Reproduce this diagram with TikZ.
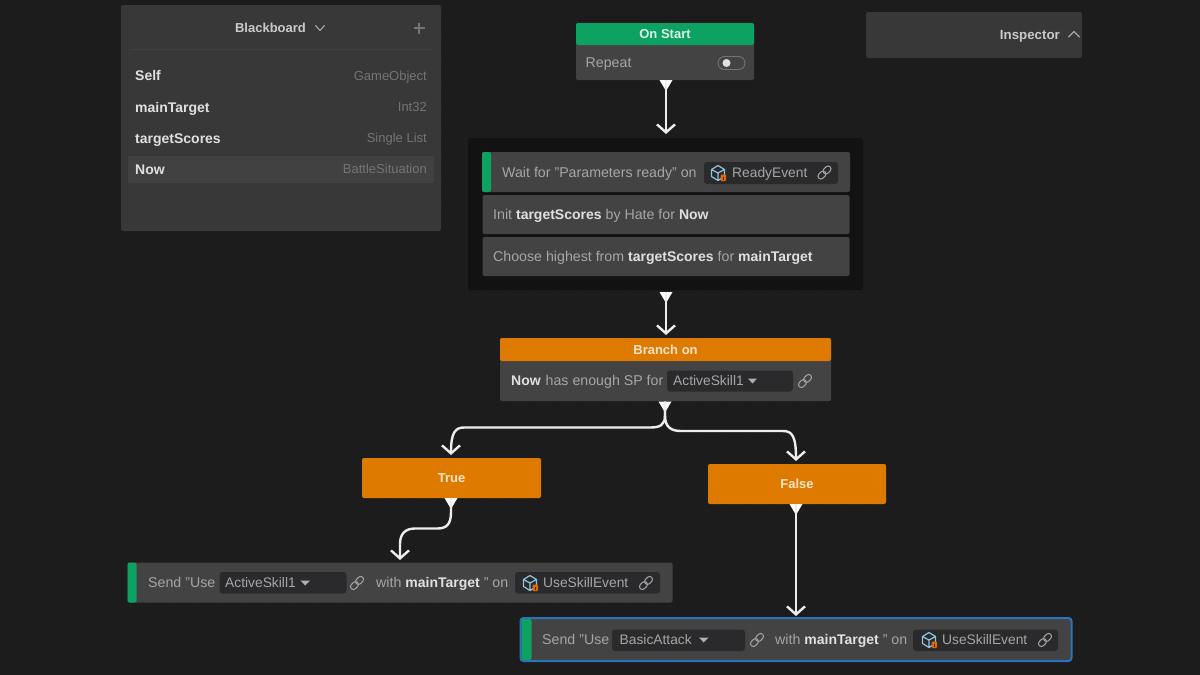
\documentclass[tikz,border=0pt]{standalone}
\usepackage{fontspec}
\setmainfont{Liberation Sans}
\usetikzlibrary{arrows.meta,calc}
\definecolor{bg}{HTML}{1C1C1D}
\definecolor{griddot}{HTML}{2A2A2B}
\definecolor{panel}{HTML}{383838}
\definecolor{rowhi}{HTML}{414141}
\definecolor{nodebody}{HTML}{434343}
\definecolor{groupbg}{HTML}{121213}
\definecolor{chipbg}{HTML}{2A2A2C}
\definecolor{greenc}{HTML}{0DA162}
\definecolor{orangec}{HTML}{DF7A00}
\definecolor{strong}{HTML}{E0E0E0}
\definecolor{soft}{HTML}{A6A6A6}
\definecolor{dimt}{HTML}{747474}
\definecolor{selblue}{HTML}{2B73BD}
\definecolor{cubeblue}{HTML}{8FC4DE}
\newcommand{\bd}[1]{{\fontsize{14}{16}\selectfont\bfseries\color{strong}#1}}
\tikzset{
  x=1pt,y=-1pt,
  box/.style={rounded corners=2pt,inner sep=0pt,outer sep=0pt,anchor=north west},
  panelbox/.style={box,fill=panel},
  nodebox/.style={box,fill=nodebody},
  headgreen/.style={box,fill=greenc},
  headorange/.style={box,fill=orangec},
  chip/.style={box,fill=chipbg,rounded corners=3pt},
  grouped/.style={box,fill=groupbg},
  txt/.style={anchor=west,inner sep=0pt,text height=12pt,text depth=3pt,text=soft,font=\fontsize{14.2}{16}\selectfont},
  chiptxt/.style={txt,font=\fontsize{13.8}{16}\selectfont},
  strongtxt/.style={txt,text=strong,font=\fontsize{14}{16}\selectfont\bfseries},
  typetxt/.style={anchor=east,inner sep=0pt,text height=12pt,text depth=3pt,text=dimt,font=\fontsize{13}{15}\selectfont},
  headtxt/.style={anchor=center,inner sep=0pt,text height=12pt,text depth=3pt,font=\fontsize{13}{15}\selectfont\bfseries},
  wire/.style={draw=white!93!black,line width=2.4pt,-{Straight Barb[length=8pt,width=18pt,line width=2.4pt]}},
  port/.style={fill=white,draw=none},
  iconline/.style={draw=soft,line width=1pt,line cap=round,line join=round,fill=none},
  linkicon/.pic={
    \begin{scope}[rotate=45]
      \draw[iconline,rounded corners=2.8pt] (-8,-2.9) rectangle (0.8,2.9);
      \draw[iconline,rounded corners=2.8pt] (-0.8,-2.9) rectangle (8,2.9);
    \end{scope}
  },
  cubeicon/.pic={
    \draw[draw=cubeblue,line width=1.2pt,line join=round]
      (0,-7.5)--(6.5,-3.5)--(6.5,3.5)--(0,7.5)--(-6.5,3.5)--(-6.5,-3.5)--cycle
      (-6.5,-3.5)--(0,0)--(6.5,-3.5) (0,0)--(0,7.5);
    \fill[orangec!85!red,rounded corners=1pt] (2.5,1.5) rectangle (8,8);
    \draw[chipbg,line width=.8pt] (5.2,3.5)--(5.2,6.5);
  }
}
\begin{document}
\begin{tikzpicture}
\useasboundingbox (0,0) rectangle (1200,675);
\fill[bg] (0,0) rectangle (1200,675);
% faint dotted canvas
\foreach \gx in {118,130,...,1090}{
  \foreach \gy in {6,18,...,670}{
    \fill[griddot] (\gx,\gy) rectangle +(1.3,1.3);
  }
}

% ---------- Blackboard
\node[panelbox,minimum width=320pt,minimum height=226pt] (bb) at (121,5) {};
\draw[panel!96!white,line width=.6pt] (130,49) -- (432,49);
\node[box,fill=rowhi,minimum width=306pt,minimum height=27pt] (bbnow) at (128,156) {};
\node[headtxt,text=strong!90!black] (bbtitle) at (270.5,28) {Blackboard};
\draw[soft,line width=1.1pt,line cap=round,line join=round] (315.5,25.5)--(320,30.5)--(324.5,25.5);
\draw[dimt,line width=1.1pt] (413.5,28)--(424.5,28) (419,22.5)--(419,33.5);
\node[strongtxt] (n1) at (135,76) {Self};
\node[strongtxt] (n2) at (135,108) {mainTarget};
\node[strongtxt] (n3) at (135,139) {targetScores};
\node[strongtxt] (n4) at (135,170) {Now};
\node[typetxt] (t1) at (427,76) {GameObject};
\node[typetxt] (t2) at (427,107) {Int32};
\node[typetxt] (t3) at (427,138) {Single List};
\node[typetxt] (t4) at (427,169) {BattleSituation};

% ---------- Inspector
\node[panelbox,minimum width=216pt,minimum height=46pt] (insp) at (866,12) {};
\node[headtxt,anchor=east,text=strong!90!black,font=\fontsize{13.3}{15}\selectfont\bfseries] (insptxt) at (1060,34.5) {Inspector};
\draw[soft,line width=1.2pt,line cap=round,line join=round] (1068.5,37)--(1074,31.5)--(1079.5,37);

% ---------- On Start
\node[nodebox,minimum width=178pt,minimum height=57pt] (start) at (576,23) {};
\node[headgreen,minimum width=178pt,minimum height=22pt,text=strong] (starth) at (576,23) {};
\node[headtxt,text=white!85!greenc] at (starth.center) {On Start};
\node[txt] (rep) at (585.5,62.5) {Repeat};
\node[box,draw=dimt,line width=.9pt,rounded corners=6.5pt,minimum width=27pt,minimum height=13pt] (tog) at (718,56.5) {};
\fill[strong] (726.5,63) circle (4pt);

% ---------- Group
\node[grouped,minimum width=395pt,minimum height=152pt] (group) at (468,138) {};
\node[nodebox,minimum width=368pt,minimum height=40pt] (row1) at (482,152) {};
\node[box,fill=greenc,minimum width=9pt,minimum height=40pt] (row1bar) at (482,152) {};
\node[txt] (row1t) at (502,172.5) {Wait for "Parameters ready" on};
\node[chip,minimum width=134pt,minimum height=22pt] (chipready) at (704,162) {};
\pic at (718,173) {cubeicon};
\node[chiptxt] (readyt) at (732,172.5) {ReadyEvent};
\pic at (824.5,172.5) {linkicon};
\node[nodebox,minimum width=367pt,minimum height=39pt] (row2) at (482.5,195) {};
\node[txt] (row2t) at (493,215) {Init \bd{targetScores} by Hate for \bd{Now}};
\node[nodebox,minimum width=367pt,minimum height=39pt] (row3) at (482.5,237) {};
\node[txt] (row3t) at (493,257) {Choose highest from \bd{targetScores} for \bd{mainTarget}};

% ---------- Branch
\node[nodebox,minimum width=331pt,minimum height=63pt] (branch) at (500,338) {};
\node[headorange,minimum width=331pt,minimum height=23pt] (branchh) at (500,338) {};
\node[headtxt,text=white!80!orangec] at (branchh.center) {Branch on};
\node[strongtxt] (bnow) at (511,381) {Now};
\node[txt] (bsp) at (545.5,381) {has enough SP for};
\node[chip,minimum width=126pt,minimum height=21pt] (chipb) at (667,370.5) {};
\node[chiptxt] (bskill) at (673,381) {ActiveSkill1};
\fill[soft!90!white] (748,378.5)--(757,378.5)--(752.5,383.5)--cycle;
\pic at (805,381) {linkicon};

% ---------- True / False
\node[headorange,minimum width=179pt,minimum height=40pt] (true) at (362,458) {};
\node[headtxt,text=white!80!orangec] at (true.center) {True};
\node[headorange,minimum width=178pt,minimum height=40pt] (false) at (708,464) {};
\node[headtxt,text=white!80!orangec] at (false.center) {False};

% ---------- Send 1
\node[nodebox,minimum width=545pt,minimum height=40pt] (send1) at (127.5,562.5) {};
\node[box,fill=greenc,minimum width=9pt,minimum height=40pt] (send1bar) at (127.5,562.5) {};
\node[txt] (s1a) at (148,583) {Send "Use};
\node[chip,minimum width=127pt,minimum height=21.5pt] (chips1) at (219.5,572) {};
\node[chiptxt] (s1b) at (225,583) {ActiveSkill1};
\fill[soft!90!white] (300.5,580.5)--(310,580.5)--(305.2,585.5)--cycle;
\pic at (357,583) {linkicon};
\node[txt] (s1c) at (376,583) {with \bd{mainTarget} " on};
\node[chip,minimum width=145pt,minimum height=21.5pt] (chips1e) at (515,572) {};
\pic at (530,583) {cubeicon};
\node[chiptxt] (s1d) at (543,583) {UseSkillEvent};
\pic at (646,583) {linkicon};

% ---------- Send 2
\node[nodebox,draw=selblue,line width=2pt,rounded corners=3pt,minimum width=551pt,minimum height=43pt] (send2) at (520.5,618) {};
\node[box,fill=greenc,minimum width=10pt,minimum height=41pt] (send2bar) at (521.5,619) {};
\node[txt] (s2a) at (542,640) {Send "Use};
\node[chip,minimum width=133pt,minimum height=21.5pt] (chips2) at (612,629.5) {};
\node[chiptxt] (s2b) at (619.5,640) {BasicAttack};
\fill[soft!90!white] (699,637.5)--(708.5,637.5)--(703.7,642.5)--cycle;
\pic at (757,640) {linkicon};
\node[txt] (s2c) at (775,640) {with \bd{mainTarget} " on};
\node[chip,minimum width=145pt,minimum height=21.5pt] (chips2e) at (913,629.5) {};
\pic at (929,640) {cubeicon};
\node[chiptxt] (s2d) at (942,640) {UseSkillEvent};
\pic at (1045,640) {linkicon};

% ---------- output ports (named), then connectors between names
\foreach \pname/\px/\py in {pstart/666/80,pgroup/666/292,pbranch/665/401.5,ptrue/451/498,pfalse/796/504}{
  \coordinate (\pname) at (\px,\py);
  \fill[port] ($(\pname)+(-6.5,0)$) -- ($(\pname)+(6.5,0)$) -- ($(\pname)+(0,11)$) -- cycle;
}
\coordinate (itrue) at (451,455);
\coordinate (ifalse) at (796,461);
\coordinate (isend1) at (400,560);
\coordinate (isend2) at (796,616);
\coordinate (igroup) at (666,134);
\coordinate (ibranch) at (666,335);

\draw[wire] (pstart) -- (igroup);
\draw[wire] (pgroup) -- (ibranch);
\draw[wire] (pbranch) -- ++(0,14)
  .. controls (665,425) and (660,427.5) .. (650,427.5) -- (464,427.5)
  .. controls (455,427.5) and (451,433) .. (itrue);
\draw[wire] (pbranch) -- ++(0,14)
  .. controls (665,427) and (671,431) .. (681,431) -- (783,431)
  .. controls (792,431) and (796,436) .. (ifalse);
\draw[wire] (ptrue) -- ++(0,14)
  .. controls (451,525) and (446,528.5) .. (437,528.5) -- (415,528.5)
  .. controls (405,528.5) and (400,534) .. (400,544) -- (isend1);
\draw[wire] (pfalse) -- (isend2);
\end{tikzpicture}
\end{document}
